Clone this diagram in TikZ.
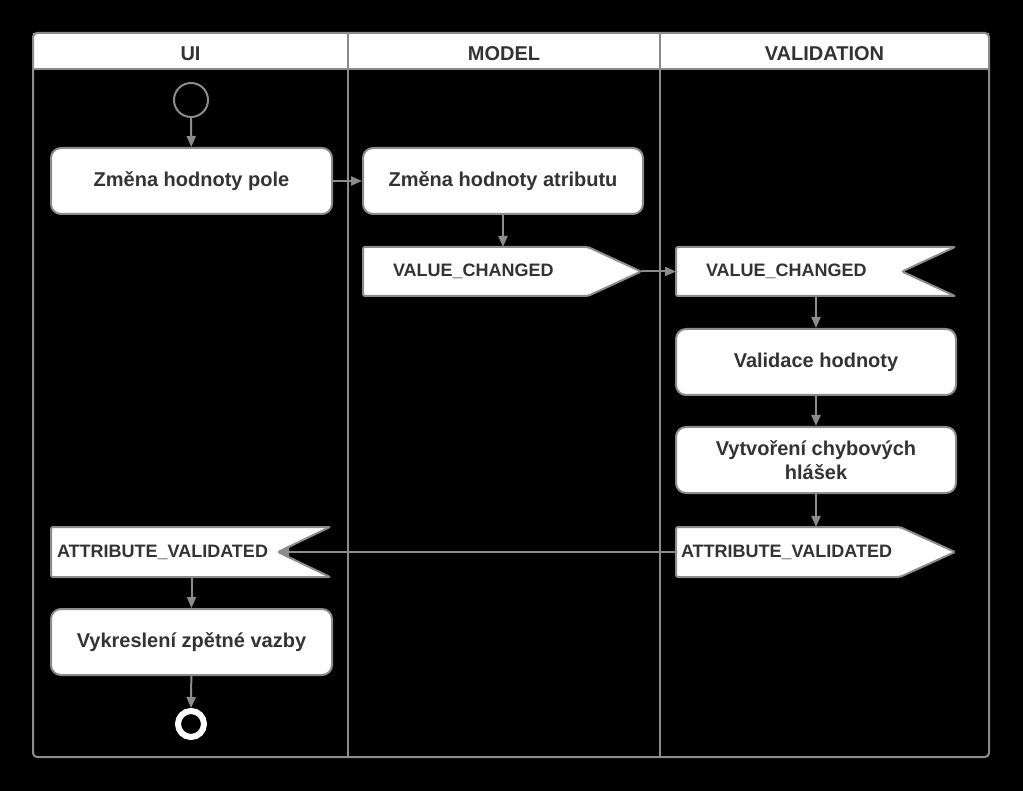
\documentclass[tikz,border=0pt]{standalone}
\usepackage{fontspec}
\setmainfont{Liberation Sans}
\usetikzlibrary{arrows.meta,positioning,calc,backgrounds}

\definecolor{edge}{HTML}{8C8C8C}
\definecolor{ink}{HTML}{333333}

\begin{document}
\begin{tikzpicture}[
  x=1pt,y=-1pt,
  >={Triangle[length=11pt,width=9pt]},
  font=\bfseries\fontsize{20}{24}\selectfont,
  lane/.style={draw=edge,line width=2pt},
  head/.style={fill=white,text=ink,minimum height=36pt,inner sep=0pt,outer sep=0pt,anchor=north west,text height=20pt,text depth=0pt},
  act/.style={rounded corners=10pt,draw=edge,fill=white,line width=2pt,text=ink,align=center,minimum width=280pt,minimum height=66pt,inner sep=4pt},
  sig/.style={text=ink,font=\bfseries\fontsize{18}{22}\selectfont,minimum height=49pt,align=left,inner ysep=0pt,outer sep=0pt,anchor=west},
  sigline/.style={draw=edge,fill=white,line width=2pt,rounded corners=2pt},
  initial/.style={circle,draw=edge,line width=2pt,minimum size=34pt,inner sep=0pt},
  final/.style={circle,draw=white,line width=6pt,minimum size=26pt,inner sep=0pt},
  flow/.style={->,draw=edge,line width=2pt},
]

% page
\begin{scope}[on background layer]
  \fill[black] (0,0) rectangle (1023,791);
\end{scope}
\useasboundingbox (0,0) rectangle (1023,791);

% swimlanes
\node[head,minimum width=315pt] (ui) at (33,33) {UI};
\node[head,minimum width=312pt] (model) at (ui.north east) {MODEL};
\node[head,minimum width=329pt] (valid) at (model.north east) {VALIDATION};
\draw[lane,rounded corners=4pt] (ui.north west) rectangle (989,757);
\draw[lane] (ui.south west) -- (valid.south east);
\draw[lane] (ui.north east) -- (ui.north east |- 0,757);
\draw[lane] (model.north east) -- (model.north east |- 0,757);

% UI / MODEL / VALIDATION flow
\node[initial] (start) at (191,100) {};
\node[act,minimum width=281pt] (edit) at (191.5,181) {Změna hodnoty pole};
\node[act] (setattr) at (503,181) {Změna hodnoty atributu};
\node[sig,text width=218pt,inner xsep=30pt] (sendchg) at (363,271.5) {VALUE\_CHANGED};
\node[sig,text width=219pt,inner xsep=30pt] (recvchg) at (676,271.5) {VALUE\_CHANGED};
\node[act] (validate) at (816,362) {Validace hodnoty};
\node[act] (messages) at (816,460) {Vytvoření chybových\\ hlášek};
\node[sig,text width=269pt,inner xsep=5pt,minimum height=50pt] (sendval) at (676,552) {ATTRIBUTE\_VALIDATED};
\node[sig,text width=267pt,inner xsep=6pt,minimum height=50pt] (recvval) at (51,552) {ATTRIBUTE\_VALIDATED};
\node[act,minimum width=281pt] (render) at (191.5,642) {Vykreslení zpětné vazby};
\node[final] (stop) at (191,724) {};

\coordinate (recvchgnotch) at ($(recvchg.east)+(-53,0)$);
\coordinate (recvvalnotch) at ($(recvval.east)+(-52,0)$);

% signal outlines
\begin{scope}[on background layer]
  \draw[sigline] (sendchg.north west) -- ($(sendchg.north east)+(-53,0)$) -- (sendchg.east) -- ($(sendchg.south east)+(-53,0)$) -- (sendchg.south west) -- cycle;
  \draw[sigline] (recvchg.north west) -- (recvchg.north east) -- (recvchgnotch) -- (recvchg.south east) -- (recvchg.south west) -- cycle;
  \draw[sigline] (sendval.north west) -- ($(sendval.north east)+(-55,0)$) -- (sendval.east) -- ($(sendval.south east)+(-55,0)$) -- (sendval.south west) -- cycle;
  \draw[sigline] (recvval.north west) -- (recvval.north east) -- (recvvalnotch) -- (recvval.south east) -- (recvval.south west) -- cycle;
\end{scope}

% edges
\draw[flow] (start) -- (edit);
\draw[flow] (edit) -- (setattr);
\draw[flow] (setattr.south) -- (setattr.south |- sendchg.north);
\draw[flow] (sendchg.east) -- (recvchg.west);
\draw[flow] (recvchg.south -| validate) -- (validate);
\draw[flow] (validate) -- (messages);
\draw[flow] (messages.south) -- (messages.south |- sendval.north);
\draw[flow] (sendval.west) -- (recvvalnotch);
\draw[flow] (recvval.south -| render) -- (render);
\draw[flow] (render) -- (stop);

\end{tikzpicture}
\end{document}
